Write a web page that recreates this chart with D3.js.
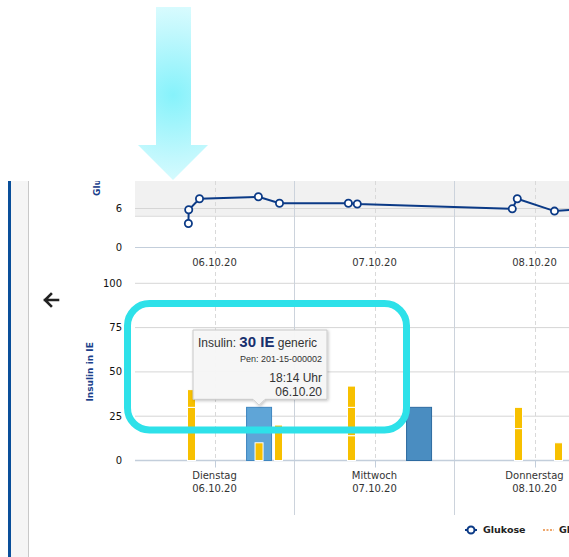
<!DOCTYPE html>
<html>
<head>
<meta charset="utf-8">
<script src="https://cdn.jsdelivr.net/npm/d3@7/dist/d3.min.js"></script>
<style>
  html, body { margin: 0; padding: 0; background: #fff; overflow: hidden; }
  svg { display: block; }
</style>
</head>
<body>
<svg id="chart" width="569" height="557"></svg>
<script>
// --- data ---
const glucoseTimes = ["2020-10-06 08:05", "2020-10-06 08:08", "2020-10-06 09:45", "2020-10-06 18:35", "2020-10-06 21:45",
  "2020-10-07 08:05", "2020-10-07 09:25", "2020-10-08 08:40", "2020-10-08 09:25", "2020-10-08 15:00", "2020-10-08 20:00"];
const glucoseValues = [3.7, 5.8, 7.5, 7.8, 6.8, 6.8, 6.7, 5.95, 7.5, 5.6, 6.0];

const basalTimes = ["2020-10-06 18:14", "2020-10-07 18:14"];
const basalValues = [30, 30];

const bolusTimes = ["2020-10-06 08:06", "2020-10-06 18:14", "2020-10-06 21:09", "2020-10-07 08:06", "2020-10-08 09:09", "2020-10-08 15:09"];
const bolusDoses = [[30, 10], [10], [20], [14, 16, 12], [18, 12], [10]];

const dayNames = ["Dienstag", "Mittwoch", "Donnerstag"];
const dayDates = ["2020-10-06", "2020-10-07", "2020-10-08"];
const dateLabels = ["06.10.20", "07.10.20", "08.10.20"];

const glucoseTicks = [0, 6];
const insulinTicks = [0, 25, 50, 75, 100];

const FONT = "DejaVu Sans, Verdana, sans-serif";
const NAVY = "#0b3a86";
const YELLOW = "#f7c000";
const BAR_OFFSET = 3;

const parseTime = d3.utcParse("%Y-%m-%d %H:%M");
const parseDay = d3.utcParse("%Y-%m-%d");

const svg = d3.select("#chart");
const defs = svg.append("defs");

// --- annotation arrow on top ---
const grad = defs.append("radialGradient")
  .attr("id", "arrowGrad")
  .attr("gradientUnits", "userSpaceOnUse")
  .attr("cx", 173).attr("cy", 95).attr("r", 115);
grad.append("stop").attr("offset", 0).attr("stop-color", "#86f2fb");
grad.append("stop").attr("offset", 0.55).attr("stop-color", "#c2f8fd");
grad.append("stop").attr("offset", 1).attr("stop-color", "#effeff");

svg.append("path")
  .attr("d", "M156,7 L191,7 L191,145 L208,145 L173,180 L138,145 L156,145 Z")
  .attr("fill", "url(#arrowGrad)");

// chart area is cut off at the top of the screenshot
defs.append("clipPath").attr("id", "cut")
  .append("rect").attr("x", 0).attr("y", 181).attr("width", 569).attr("height", 400);

const page = svg.append("g").attr("clip-path", "url(#cut)");

// left side panel
page.append("rect").attr("x", 8).attr("y", 0).attr("width", 3).attr("height", 557).attr("fill", "#0a4f9a");
page.append("rect").attr("x", 11).attr("y", 0).attr("width", 17).attr("height", 557).attr("fill", "#f5f5f5");
page.append("rect").attr("x", 28).attr("y", 0).attr("width", 1).attr("height", 557).attr("fill", "#c8c8c8");

// back arrow
page.append("path")
  .attr("d", "M58,300 L45,300 M51,294 L45,300 L51,306")
  .attr("fill", "none").attr("stroke", "#222").attr("stroke-width", 2.6)
  .attr("stroke-linecap", "square");

// --- scales ---
const x = d3.scaleUtc()
  .domain([parseDay("2020-10-06"), parseDay("2020-10-09")])
  .range([134.5, 614.5]);

const yG = d3.scaleLinear().domain([0, 12]).range([247.5, 169.5]);
const yI = d3.scaleLinear().domain([0, 100]).range([460.5, 283.3]);

const plotLeft = 135;
const plotRight = 569;

const noon = (d) => d3.utcHour.offset(parseDay(d), 12);
const midnights = [parseDay("2020-10-07"), parseDay("2020-10-08")];

// --- glucose panel ---
page.append("rect")
  .attr("x", plotLeft).attr("y", yG(12))
  .attr("width", plotRight - plotLeft).attr("height", yG(4.8) - yG(12))
  .attr("fill", "#f1f1f1");
page.append("line")
  .attr("x1", plotLeft).attr("x2", plotRight)
  .attr("y1", yG(4.8)).attr("y2", yG(4.8))
  .attr("stroke", "#dcdcdc");

page.selectAll("line.g-grid")
  .data(glucoseTicks.filter((t) => t > 0))
  .join("line")
  .attr("class", "g-grid")
  .attr("x1", plotLeft).attr("x2", plotRight)
  .attr("y1", (d) => yG(d)).attr("y2", (d) => yG(d))
  .attr("stroke", "#d6d6d6");

page.append("line")
  .attr("x1", plotLeft).attr("x2", plotRight)
  .attr("y1", yG(0)).attr("y2", yG(0))
  .attr("stroke", "#c3cedb");

page.selectAll("text.g-tick")
  .data(glucoseTicks)
  .join("text")
  .attr("class", "g-tick")
  .attr("x", 122).attr("y", (d) => yG(d))
  .attr("dy", "0.35em")
  .attr("text-anchor", "end")
  .attr("font-family", FONT).attr("font-size", 10).attr("fill", "#111")
  .text((d) => d);

page.append("text")
  .attr("transform", "translate(100,196) rotate(-90)")
  .attr("font-family", FONT).attr("font-size", 9).attr("font-weight", "bold")
  .attr("fill", "#1b3f8b")
  .text("Glukose in mmol/l");

// --- insulin panel grid ---
page.selectAll("line.i-grid")
  .data(insulinTicks.filter((t) => t > 0))
  .join("line")
  .attr("class", "i-grid")
  .attr("x1", plotLeft).attr("x2", plotRight)
  .attr("y1", (d) => yI(d)).attr("y2", (d) => yI(d))
  .attr("stroke", "#d6d6d6");

page.selectAll("text.i-tick")
  .data(insulinTicks)
  .join("text")
  .attr("class", "i-tick")
  .attr("x", 122).attr("y", (d) => yI(d))
  .attr("dy", "0.35em")
  .attr("text-anchor", "end")
  .attr("font-family", FONT).attr("font-size", 10).attr("fill", "#111")
  .text((d) => d);

page.append("text")
  .attr("transform", `translate(93,${yI(50)}) rotate(-90)`)
  .attr("text-anchor", "middle")
  .attr("font-family", FONT).attr("font-size", 9).attr("font-weight", "bold")
  .attr("fill", "#1b3f8b")
  .text("Insulin in IE");

// dashed noon lines (both panels)
const noons = dayDates.map(noon);
page.selectAll("line.noon-top")
  .data(noons)
  .join("line")
  .attr("class", "noon-top")
  .attr("x1", (d) => Math.round(x(d)) + 0.5).attr("x2", (d) => Math.round(x(d)) + 0.5)
  .attr("y1", 181).attr("y2", 254)
  .attr("stroke", "#d9d9d9").attr("stroke-dasharray", "4,3");
page.selectAll("line.noon-bottom")
  .data(noons)
  .join("line")
  .attr("class", "noon-bottom")
  .attr("x1", (d) => Math.round(x(d)) + 0.5).attr("x2", (d) => Math.round(x(d)) + 0.5)
  .attr("y1", 265).attr("y2", yI(0))
  .attr("stroke", "#d9d9d9").attr("stroke-dasharray", "4,3");

// solid midnight lines
page.selectAll("line.midnight")
  .data(midnights)
  .join("line")
  .attr("class", "midnight")
  .attr("x1", (d) => x(d)).attr("x2", (d) => x(d))
  .attr("y1", 181).attr("y2", 515)
  .attr("stroke", "#ccd3dc");

// insulin axis
page.append("line")
  .attr("x1", plotLeft).attr("x2", plotRight)
  .attr("y1", yI(0)).attr("y2", yI(0))
  .attr("stroke", "#c3cedb").attr("stroke-width", 1.5);
page.selectAll("line.i-xtick")
  .data(noons)
  .join("line")
  .attr("class", "i-xtick")
  .attr("x1", (d) => Math.round(x(d)) + 0.5).attr("x2", (d) => Math.round(x(d)) + 0.5)
  .attr("y1", yI(0)).attr("y2", yI(0) + 7)
  .attr("stroke", "#c3cedb");

// x labels
page.selectAll("text.g-date")
  .data(noons)
  .join("text")
  .attr("class", "g-date")
  .attr("x", (d) => x(d)).attr("y", 266)
  .attr("text-anchor", "middle")
  .attr("font-family", FONT).attr("font-size", 10).attr("fill", "#333")
  .text((d, i) => dateLabels[i]);

const dayLabel = page.selectAll("text.i-date")
  .data(noons)
  .join("text")
  .attr("class", "i-date")
  .attr("x", (d) => x(d)).attr("y", 479)
  .attr("text-anchor", "middle")
  .attr("font-family", FONT).attr("font-size", 10).attr("fill", "#333");
dayLabel.append("tspan").attr("x", (d) => x(d)).text((d, i) => dayNames[i]);
dayLabel.append("tspan").attr("x", (d) => x(d)).attr("dy", 12.5).text((d, i) => dateLabels[i]);

// --- bars ---
const basal = basalTimes.map((t, i) => ({ t: parseTime(t), v: basalValues[i], hover: i === 0 }));
page.selectAll("rect.basal")
  .data(basal)
  .join("rect")
  .attr("class", "basal")
  .attr("x", (d) => x(d.t) + BAR_OFFSET - 12.5)
  .attr("y", (d) => yI(d.v))
  .attr("width", 25)
  .attr("height", (d) => yI(0) - yI(d.v))
  .attr("fill", (d) => (d.hover ? "#5fa5d7" : "#4a8dc1"))
  .attr("stroke", (d) => (d.hover ? "#3f86c0" : "#2d6aa0"))
  .attr("stroke-width", 1);

const bolusSegments = [];
bolusTimes.forEach((t, i) => {
  let base = 0;
  bolusDoses[i].forEach((dose) => {
    bolusSegments.push({ t: parseTime(t), y0: base, y1: base + dose });
    base += dose;
  });
});
page.selectAll("rect.bolus")
  .data(bolusSegments)
  .join("rect")
  .attr("class", "bolus")
  .attr("x", (d) => x(d.t) + BAR_OFFSET - 4)
  .attr("y", (d) => yI(d.y1))
  .attr("width", 8)
  .attr("height", (d) => yI(d.y0) - yI(d.y1))
  .attr("fill", YELLOW)
  .attr("stroke", "#fff")
  .attr("stroke-width", 1);

// --- glucose line ---
const glucose = glucoseTimes.map((t, i) => ({ t: parseTime(t), v: glucoseValues[i] }));
page.append("path")
  .datum(glucose)
  .attr("fill", "none")
  .attr("stroke", NAVY)
  .attr("stroke-width", 2)
  .attr("d", d3.line().x((d) => x(d.t)).y((d) => yG(d.v)));
page.selectAll("circle.gluc")
  .data(glucose)
  .join("circle")
  .attr("class", "gluc")
  .attr("cx", (d) => x(d.t)).attr("cy", (d) => yG(d.v))
  .attr("r", 3.6)
  .attr("fill", "#fff").attr("stroke", NAVY).attr("stroke-width", 1.8);

// --- tooltip ---
const tip = basal[0];
const tipX = x(tip.t) + BAR_OFFSET;
const tipBottom = yI(tip.v) - 4;
const tipLeft = 193, tipRight = 327, tipTop = 330;

const shadow = defs.append("filter").attr("id", "tipShadow").attr("x", -0.1).attr("y", -0.1).attr("width", 1.3).attr("height", 1.3);
shadow.append("feDropShadow").attr("dx", 1).attr("dy", 1).attr("stdDeviation", 1.5).attr("flood-opacity", 0.25);

page.append("path")
  .attr("d", `M${tipLeft},${tipTop} H${tipRight} V${tipBottom - 4} H${tipX + 6} L${tipX},${tipBottom + 2} L${tipX - 6},${tipBottom - 4} H${tipLeft} Z`)
  .attr("fill", "#f8f8f8").attr("fill-opacity", 0.95)
  .attr("stroke", "#c9c9c9").attr("stroke-width", 1)
  .attr("filter", "url(#tipShadow)");

const TIP_FONT = "Liberation Sans, Arial, sans-serif";
const line1 = page.append("text")
  .attr("x", 198).attr("y", 347)
  .attr("font-family", TIP_FONT).attr("font-size", 12).attr("fill", "#333");
line1.append("tspan").text("Insulin: ");
line1.append("tspan").attr("font-size", 15).attr("font-weight", "bold").attr("fill", "#172f6d").text(`${tip.v} IE`);
line1.append("tspan").text(" generic");

page.append("text")
  .attr("x", 322).attr("y", 362).attr("text-anchor", "end")
  .attr("font-family", TIP_FONT).attr("font-size", 9).attr("fill", "#333")
  .text("Pen: 201-15-000002");
page.append("text")
  .attr("x", 322).attr("y", 382).attr("text-anchor", "end")
  .attr("font-family", TIP_FONT).attr("font-size", 12).attr("fill", "#333")
  .text("18:14 Uhr");
page.append("text")
  .attr("x", 322).attr("y", 396).attr("text-anchor", "end")
  .attr("font-family", TIP_FONT).attr("font-size", 12).attr("fill", "#333")
  .text(dateLabels[0]);

// --- highlight frame ---
page.append("rect")
  .attr("x", 127.5).attr("y", 303.5)
  .attr("width", 279).attr("height", 126.5)
  .attr("rx", 22).attr("ry", 22)
  .attr("fill", "none")
  .attr("stroke", "#2ee1e9").attr("stroke-width", 7);

// --- legend ---
const legend = page.append("g").attr("transform", "translate(465,530)");
legend.append("line").attr("x1", 0).attr("x2", 12).attr("y1", 0).attr("y2", 0)
  .attr("stroke", NAVY).attr("stroke-width", 2);
legend.append("circle").attr("cx", 6).attr("cy", 0).attr("r", 3.5)
  .attr("fill", "#fff").attr("stroke", NAVY).attr("stroke-width", 2);
legend.append("text").attr("x", 18).attr("y", 0).attr("dy", "0.35em")
  .attr("font-family", FONT).attr("font-size", 9.5).attr("font-weight", "bold").attr("fill", "#222")
  .text("Glukose");
legend.append("line").attr("x1", 78).attr("x2", 89).attr("y1", 0).attr("y2", 0)
  .attr("stroke", "#e98a3c").attr("stroke-width", 1.5).attr("stroke-dasharray", "2,1.5");
legend.append("text").attr("x", 94).attr("y", 0).attr("dy", "0.35em")
  .attr("font-family", FONT).attr("font-size", 9.5).attr("font-weight", "bold").attr("fill", "#222")
  .text("Glukose CGM");
</script>
</body>
</html>
